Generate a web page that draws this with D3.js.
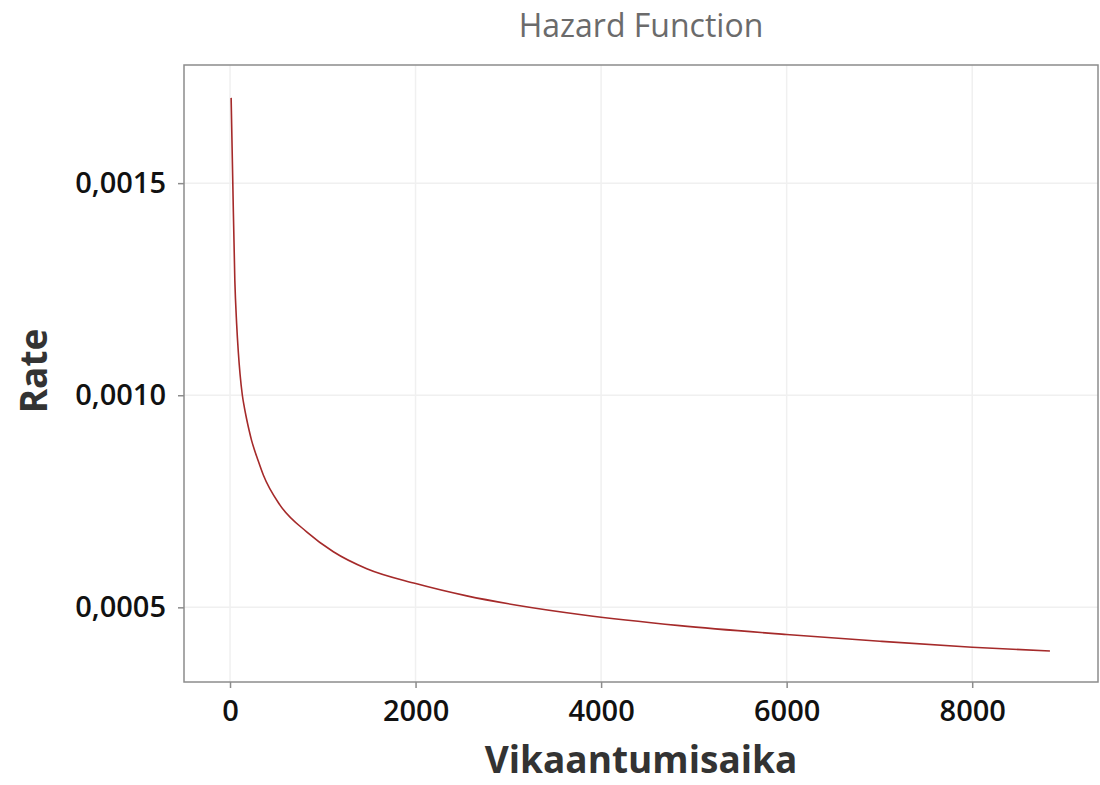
<!DOCTYPE html>
<meta charset="utf-8">
<html>
<head>
    <meta charset="UTF-8">
    <title>Hazard Function</title>
    <script src="https://d3js.org/d3.v7.min.js"></script>
    <style>
        body { margin: 0; background: #fff; }
        text { font-family: "Open Sans", "Noto Sans", sans-serif; }
    </style>
</head>
<body>
<svg width="1100" height="785" id="chart"></svg>
<script>
// failure time (Vikaantumisaika) and hazard rate
var times = [12, 30, 52, 71, 90, 108, 133, 154, 179, 205, 233, 262, 295, 359, 539, 826, 1114, 1474, 2002, 2552, 3092, 3811, 4847, 5998, 7004, 8000, 8838];
var rates = [0.001701, 0.00150, 0.00127, 0.00117, 0.00110, 0.00105, 0.00100, 0.000972, 0.000944, 0.000918, 0.000893, 0.000872, 0.000851, 0.000812, 0.000741, 0.000678, 0.000631, 0.000591, 0.000556, 0.000527, 0.000505, 0.000482, 0.000457, 0.000436, 0.00042, 0.000406, 0.000397];
var xTicks = [0, 2000, 4000, 6000, 8000];
var yTicks = [0.0005, 0.0010, 0.0015];
var yTickLabels = ["0,0005", "0,0010", "0,0015"];

var svg = d3.select("#chart");
var pLeft = 184, pTop = 65, pRight = 1098, pBottom = 682;

var x = d3.scaleLinear().domain([-496, 9356]).range([pLeft, pRight]);
var y = d3.scaleLinear().domain([0.000324, 0.0017785]).range([pBottom, pTop]);

// gridlines
svg.append("g").selectAll("line").data(xTicks).enter().append("line")
    .attr("x1", d => x(d)).attr("x2", d => x(d)).attr("y1", pTop).attr("y2", pBottom)
    .style("stroke", "#f0f0f0").style("stroke-width", 1.5);
svg.append("g").selectAll("line").data(yTicks).enter().append("line")
    .attr("x1", pLeft).attr("x2", pRight).attr("y1", d => y(d)).attr("y2", d => y(d))
    .style("stroke", "#f0f0f0").style("stroke-width", 1.5);

// frame
svg.append("rect").attr("x", pLeft).attr("y", pTop).attr("width", pRight - pLeft).attr("height", pBottom - pTop)
    .style("fill", "none").style("stroke", "#8c8c8c").style("stroke-width", 1.5);

// axes
var xAxis = svg.append("g").attr("transform", "translate(0," + pBottom + ")")
    .call(d3.axisBottom(x).tickValues(xTicks).tickSize(6).tickSizeOuter(0).tickPadding(12).tickFormat(d3.format("d")));
var yAxis = svg.append("g").attr("transform", "translate(" + pLeft + ",0)")
    .call(d3.axisLeft(y).tickValues(yTicks).tickSize(6).tickSizeOuter(0).tickPadding(12).tickFormat((d, i) => yTickLabels[i]));
[xAxis, yAxis].forEach(function(a) {
    a.select(".domain").remove();
    a.selectAll("line").style("stroke", "#8c8c8c").style("stroke-width", 1.5);
    a.selectAll("text").style("font-size", "29px").style("font-weight", 600).style("fill", "#111");
});

// the hazard curve
var pts = times.map((t, i) => [t, rates[i]]);
svg.append("path").datum(pts)
    .attr("d", d3.line().x(d => x(d[0])).y(d => y(d[1])).curve(d3.curveMonotoneX))
    .style("fill", "none").style("stroke", "#a52a2a").style("stroke-width", 1.6);

// titles
svg.append("text").attr("x", 641).attr("y", 37).attr("text-anchor", "middle")
    .style("font-size", "32px").style("fill", "#6b6b6b").text("Hazard Function");
svg.append("text").attr("x", 641).attr("y", 773).attr("text-anchor", "middle")
    .style("font-size", "37px").style("font-weight", 700).style("fill", "#333").text("Vikaantumisaika");
svg.append("text").attr("transform", "rotate(-90)").attr("x", -371).attr("y", 47).attr("text-anchor", "middle")
    .style("font-size", "37px").style("font-weight", 700).style("fill", "#333").text("Rate");
</script>
</body>
</html>
